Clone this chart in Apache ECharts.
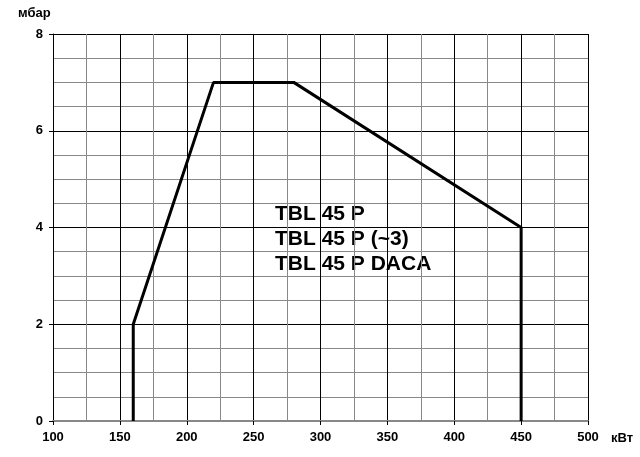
<!DOCTYPE html>
<html><head><meta charset="utf-8">
<script src="https://cdn.jsdelivr.net/npm/echarts@6/dist/echarts.min.js"></script>
<style>html,body{margin:0;padding:0;background:#fff}#c{width:640px;height:457px}</style>
</head><body><div id="c"></div>
<script>
const powerKW = [160, 160, 220, 280, 450, 450];
const pressureMbar = [0, 2, 7, 7, 4, 0];
const modelLabels = ['TBL 45 P', 'TBL 45 P (~3)', 'TBL 45 P DACA'];
const xUnit = 'кВт';
const yUnit = 'мбар';

const chart = echarts.init(document.getElementById('c'));
const font = 'Liberation Sans, Arial, sans-serif';
chart.setOption({
  animation: false,
  backgroundColor: '#fff',
  grid: { left: 53, right: 52, top: 34, bottom: 36 },
  xAxis: {
    type: 'value', min: 100, max: 500, interval: 50,
    axisLine: { show: true, lineStyle: { color: '#888', width: 2 } },
    axisTick: { show: true, length: 4, lineStyle: { color: '#000' } },
    axisLabel: { color: '#000', fontWeight: 'bold', fontSize: 13, fontFamily: font, margin: 10 },
    splitLine: { show: true, lineStyle: { color: '#000', width: 1 } },
    minorTick: { show: false, splitNumber: 2 },
    minorSplitLine: { show: true, lineStyle: { color: '#888', width: 1 } }
  },
  yAxis: {
    type: 'value', min: 0, max: 8, interval: 2,
    axisLine: { show: true, lineStyle: { color: '#000', width: 1 } },
    axisTick: { show: true, length: 4, lineStyle: { color: '#000' } },
    axisLabel: { color: '#000', fontWeight: 'bold', fontSize: 13, fontFamily: font, margin: 10 },
    splitLine: { show: true, lineStyle: { color: '#000', width: 1 } },
    minorTick: { show: false, splitNumber: 4 },
    minorSplitLine: { show: true, lineStyle: { color: '#888', width: 1 } }
  },
  graphic: [
    { type: 'text', left: 18, top: 7, style: { text: yUnit, fill: '#000', font: 'bold 13px ' + font } },
    { type: 'text', left: 611, top: 432, style: { text: xUnit, fill: '#000', font: 'bold 13px ' + font } },
    { type: 'text', left: 275, top: 202, style: { text: modelLabels.join('\n'), fill: '#000', font: 'bold 21px ' + font, lineHeight: 25 } }
  ],
  series: [{
    type: 'line',
    data: powerKW.map((x, i) => [x, pressureMbar[i]]),
    showSymbol: false,
    lineStyle: { color: '#000', width: 3 },
    z: 5
  }]
});
</script></body></html>
